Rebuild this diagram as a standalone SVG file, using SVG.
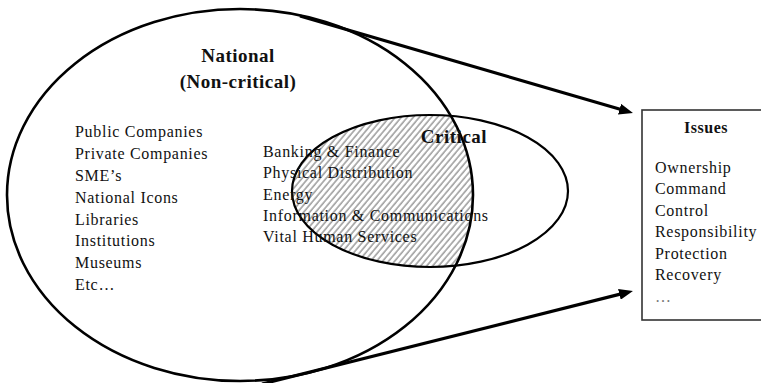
<svg xmlns="http://www.w3.org/2000/svg" width="761" height="383" viewBox="0 0 761 383">
  <style>
    .txt { font-family: "Liberation Serif", "Times New Roman", serif; font-size: 16px; letter-spacing: 0.7px; fill: #111; }
    .title { font-family: "Liberation Serif", "Times New Roman", serif; font-size: 19px; font-weight: bold; letter-spacing: 0.5px; fill: #111; }
    .head { font-family: "Liberation Serif", "Times New Roman", serif; font-size: 16px; font-weight: bold; letter-spacing: 0.5px; fill: #111; }
    .ring { fill: none; stroke: #000; }
    .arrow { fill: none; stroke: #000; stroke-width: 3.2; }
  </style>
  <defs>
    <pattern id="hatch" width="4.6" height="10" patternUnits="userSpaceOnUse" patternTransform="rotate(40)">
      <line x1="1" y1="0" x2="1" y2="10" stroke="#8a8a8a" stroke-width="1.3"/>
    </pattern>
    <clipPath id="nationalClip">
      <ellipse cx="240" cy="195" rx="233" ry="186"/>
    </clipPath>
    <marker id="head" viewBox="0 0 14 11" refX="6" refY="5.5" markerWidth="14" markerHeight="11" markerUnits="userSpaceOnUse" orient="auto">
      <path d="M0,0 L14,5.5 L0,11 z" fill="#000"/>
    </marker>
  </defs>

  <rect width="761" height="383" fill="#fff"/>

  <!-- overlap of national and critical sets -->
  <g id="overlap">
    <ellipse cx="430" cy="191" rx="138" ry="76" fill="url(#hatch)" clip-path="url(#nationalClip)"/>
  </g>

  <g id="national">
    <ellipse class="ring" cx="240" cy="195" rx="233" ry="186" stroke-width="2.6"/>
    <text class="title" x="238" y="62" text-anchor="middle">National</text>
    <text class="title" x="238" y="88" text-anchor="middle">(Non-critical)</text>
    <text class="txt" x="75" y="137">Public Companies</text>
    <text class="txt" x="75" y="159">Private Companies</text>
    <text class="txt" x="75" y="181">SME’s</text>
    <text class="txt" x="75" y="203">National Icons</text>
    <text class="txt" x="75" y="225">Libraries</text>
    <text class="txt" x="75" y="246">Institutions</text>
    <text class="txt" x="75" y="268">Museums</text>
    <text class="txt" x="75" y="290">Etc…</text>
  </g>

  <g id="critical">
    <ellipse class="ring" cx="430" cy="191" rx="138" ry="76" stroke-width="2.2"/>
    <text class="title" x="454" y="143" text-anchor="middle">Critical</text>
    <text class="txt" x="263" y="157">Banking &amp; Finance</text>
    <text class="txt" x="263" y="178">Physical Distribution</text>
    <text class="txt" x="263" y="200">Energy</text>
    <text class="txt" x="263" y="221">Information &amp; Communications</text>
    <text class="txt" x="263" y="242">Vital Human Services</text>
  </g>

  <g id="issues">
    <rect x="642" y="110" width="130" height="210" fill="#fff" stroke="#333" stroke-width="1.6"/>
    <text class="head" x="706" y="133" text-anchor="middle">Issues</text>
    <text class="txt" x="655" y="173">Ownership</text>
    <text class="txt" x="655" y="194">Command</text>
    <text class="txt" x="655" y="216">Control</text>
    <text class="txt" x="655" y="237">Responsibility</text>
    <text class="txt" x="655" y="259">Protection</text>
    <text class="txt" x="655" y="280">Recovery</text>
    <text class="txt" x="655" y="302" fill="#777" style="fill:#777">…</text>
  </g>

  <g id="connectors">
    <path class="arrow" d="M300,16 L625.3,110.8" marker-end="url(#head)"/>
    <path class="arrow" d="M262,384 L625.2,292.9" marker-end="url(#head)"/>
  </g>
</svg>
